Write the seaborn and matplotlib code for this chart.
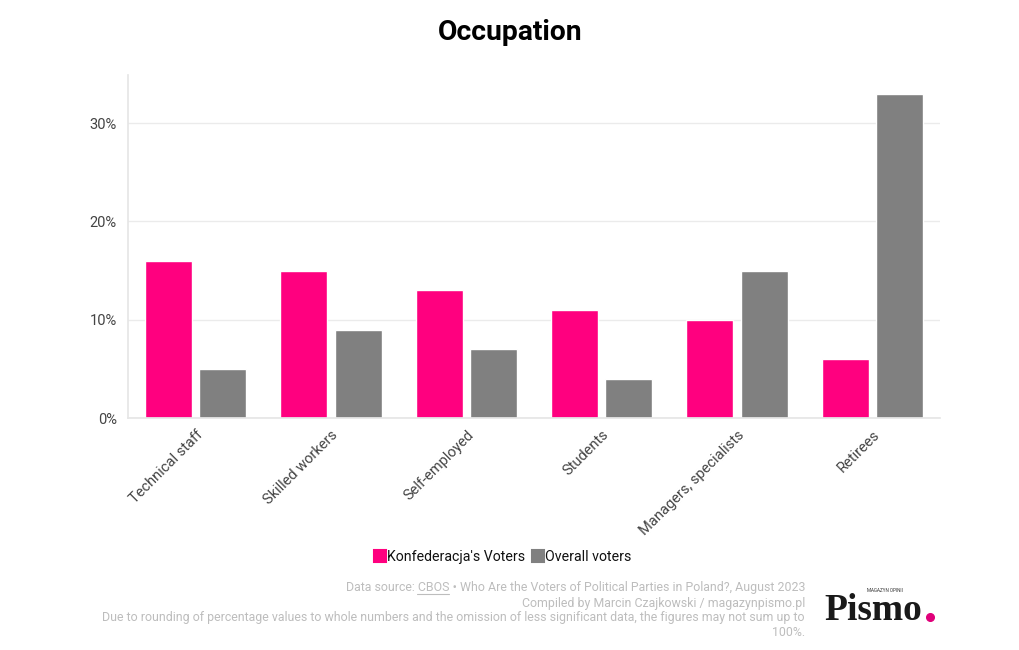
import matplotlib
matplotlib.use("Agg")
import matplotlib.pyplot as plt
import seaborn as sns
import pandas as pd
from matplotlib.lines import Line2D
from matplotlib.ticker import FuncFormatter, MultipleLocator

categories = ["Technical staff", "Skilled workers", "Self-employed", "Students",
              "Managers, specialists", "Retirees"]
konfederacja = [16, 15, 13, 11, 10, 6]
overall = [5, 9, 7, 4, 15, 33]
series_names = ["Konfederacja's Voters", "Overall voters"]
colors = ["#FF007F", "#808080"]

df = pd.DataFrame({
    "category": categories * 2,
    "value": konfederacja + overall,
    "series": [series_names[0]] * len(categories) + [series_names[1]] * len(categories),
})

sns.set_theme(style="white")
plt.rcParams["font.family"] = ["Roboto", "DejaVu Sans"]

fig = plt.figure(figsize=(10.2, 6.5), dpi=100)
ax = fig.add_axes([128 / 1020, 1 - 418 / 650, (940 - 128) / 1020, (418 - 75) / 650])

sns.barplot(data=df, x="category", y="value", hue="series", palette=colors,
            width=0.8, gap=0.13, ax=ax, legend=False, saturation=1)

ax.set_ylim(0, 34.9)
ax.set_xlim(-0.5, len(categories) - 0.5)
ax.yaxis.set_major_locator(MultipleLocator(10))
ax.yaxis.set_major_formatter(FuncFormatter(lambda v, p: f"{int(v)}%"))
ax.grid(axis="y", color="#ebebeb", linewidth=1)
ax.set_axisbelow(True)
for s in ["top", "right"]:
    ax.spines[s].set_visible(False)
ax.spines["left"].set_color("#e6e6e6")
ax.spines["bottom"].set_color("#e6e6e6")
ax.set_xlabel("")
ax.set_ylabel("")
ax.tick_params(axis="y", length=0, labelsize=10.5, labelcolor="#444444", pad=8)
ax.tick_params(axis="x", length=4, color="#cccccc", labelsize=10.5, labelcolor="#444444", pad=3)
plt.setp(ax.get_xticklabels(), rotation=45, ha="right", rotation_mode="anchor")

fig.text(0.5, 1 - 32 / 650, "Occupation", ha="center", va="center",
         fontsize=20.3, fontweight="bold", color="#000000")

handles = [Line2D([0], [0], marker="s", linestyle="", markersize=8.5,
                  markerfacecolor=c, markeredgecolor=c, markeredgewidth=1.5,
                  ) for c in colors]
fig.legend(handles, series_names, loc="center", bbox_to_anchor=(502 / 1020, 1 - 557 / 650),
           ncol=2, frameon=False, fontsize=10.2, handletextpad=0.0, columnspacing=0.4,
           handlelength=1.0, labelcolor="#111111")

foot_color = "#bdbdbd"
foot_size = 8.9
fx = 805 / 1020
lines = [
    (587, "Data source: CBOS \u2022 Who Are the Voters of Political Parties in Poland?, August 2023"),
    (603, "Compiled by Marcin Czajkowski / magazynpismo.pl"),
    (618, "Due to rounding of percentage values to whole numbers and the omission of less significant data, the figures may not sum up to"),
    (632, "100%."),
]
texts = []
for y, t in lines:
    texts.append(fig.text(fx, 1 - y / 650, t, ha="right", va="center",
                          fontsize=foot_size, color=foot_color))

# underline "CBOS"
renderer = fig.canvas.get_renderer()
full = texts[0].get_window_extent(renderer)
tmp_pre = fig.text(0, 0, "Data source: ", fontsize=foot_size)
tmp_word = fig.text(0, 0, "Data source: CBOS", fontsize=foot_size)
w_pre = tmp_pre.get_window_extent(renderer).width
w_word = tmp_word.get_window_extent(renderer).width
tmp_pre.remove()
tmp_word.remove()
x0 = (full.x0 + w_pre) / 1020
x1 = (full.x0 + w_word) / 1020
yu = 1 - 594 / 650
fig.add_artist(Line2D([x0, x1], [yu, yu], transform=fig.transFigure,
                      color=foot_color, linewidth=0.8))

# logo
fig.text(824 / 1020, 1 - 620 / 650, "Pismo", ha="left", va="baseline", fontsize=27,
         fontweight="bold", family=["Liberation Serif", "DejaVu Serif"], color="#1a1a1a")
fig.add_artist(Line2D([930 / 1020], [1 - 617 / 650], transform=fig.transFigure,
                      marker="o", markersize=5.5, color="#E0007A", linestyle=""))
fig.text(885 / 1020, 1 - 591 / 650, "MAGAZYN OPINII", ha="center", va="center", fontsize=3.3,
         color="#333333")

fig.savefig("out.png", dpi=100)
